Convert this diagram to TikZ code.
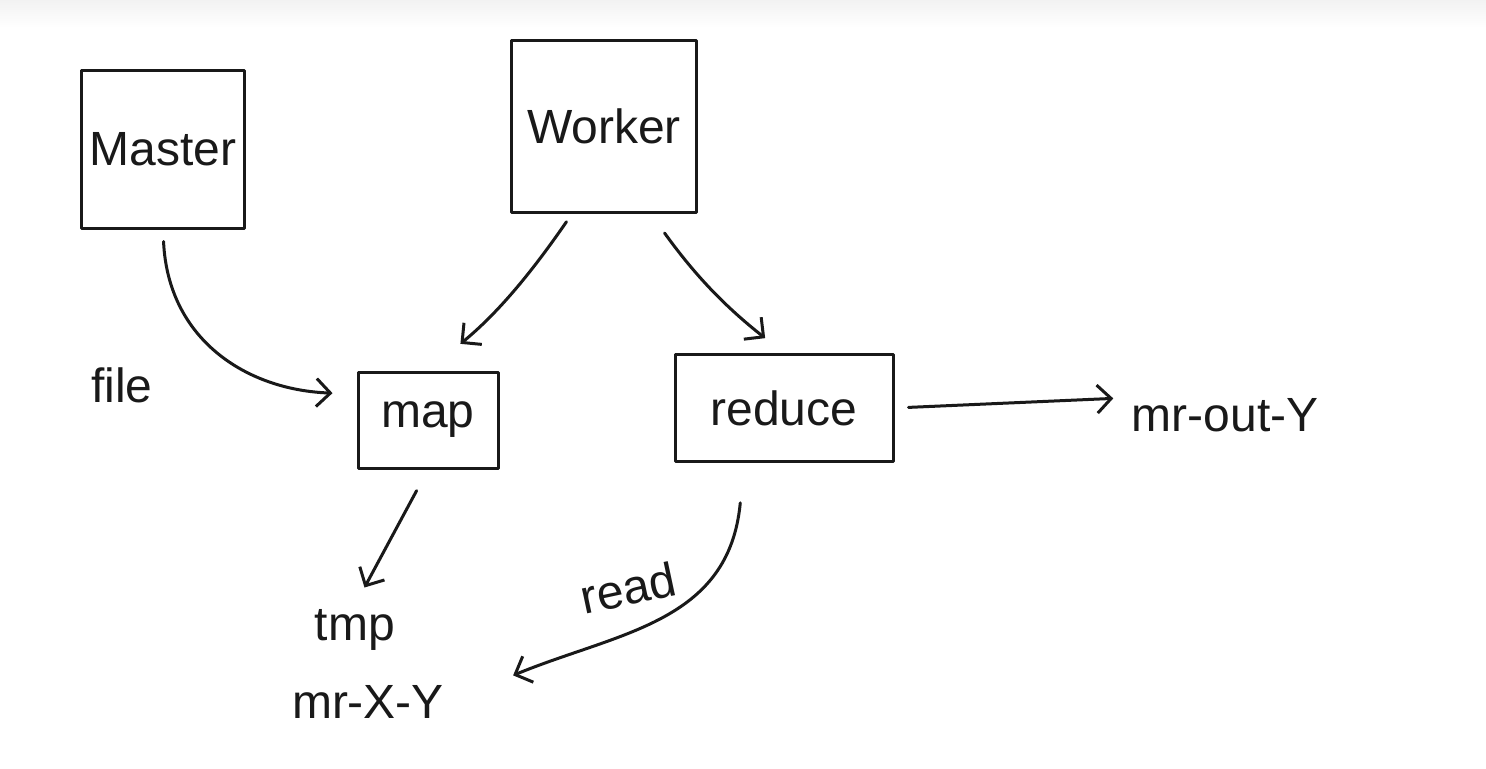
\documentclass[tikz,border=0pt]{standalone}
\usepackage{fontspec}
\setmainfont{Liberation Sans}
\usetikzlibrary{arrows.meta,calc}
\begin{document}
\begin{tikzpicture}[x=0.5pt,y=-0.5pt,
  ink/.style={line width=1.5pt,draw=black!90,line cap=round,line join=round},
  box/.style={ink,rectangle,inner sep=0pt},
  lbl/.style={font=\fontsize{24}{28}\selectfont,text=black!90,inner sep=2pt},
  arr/.style={ink,-{Straight Barb[length=7pt,width=14pt,line width=1.5pt]}},
]
\useasboundingbox (0,0) rectangle (1486,768);
\fill[white] (0,0) rectangle (1486,768);
\shade[top color=black!5,bottom color=white] (0,0) rectangle (1486,28);

\node[box,minimum width=81.5pt,minimum height=79pt,lbl] (master) at (163,149) {Master};
\node[box,minimum width=92.5pt,minimum height=86pt,lbl] (worker) at (604,126) {Worker};
\node[box,minimum width=70pt,minimum height=48pt,lbl] (map) at (428,420) {map};
\node[box,minimum width=109pt,minimum height=53.5pt,lbl] (reduce) at (784,408) {reduce};

\node[lbl] (file) at (122,385) {file};
\node[lbl] (tmp) at (355,630) {tmp};
\node[lbl] (mrxy) at (368,702) {mr-X-Y};
\node[lbl] (mrout) at (1225,415) {mr-out-Y};
\node[lbl,rotate=12] (read) at (628,588) {read};

\draw[arr,shorten <=6pt,shorten >=12pt] (master.south) .. controls ($(master.south)+(5,110)$) and ($(map.west)+(-110,-30)$) .. (map.160);
\draw[arr,shorten <=5pt,shorten >=21pt] (worker.250) to[bend left=8] (map.north);
\draw[arr,shorten <=12pt,shorten >=12pt] (worker.-62) to[bend right=8] (reduce.north);
\draw[arr,shorten <=7pt,shorten >=7pt] (reduce.east) -- (mrout.170);
\draw[arr,shorten <=12pt,shorten >=10pt] (map.south) -- (tmp.north);
\draw[arr,shorten <=20pt,shorten >=35pt] ($(reduce.south)+(-40,0)$) .. controls ($(reduce.south)+(-55,160)$) and ($(mrxy.east)+(170,-70)$) .. (mrxy.east);
\end{tikzpicture}
\end{document}
